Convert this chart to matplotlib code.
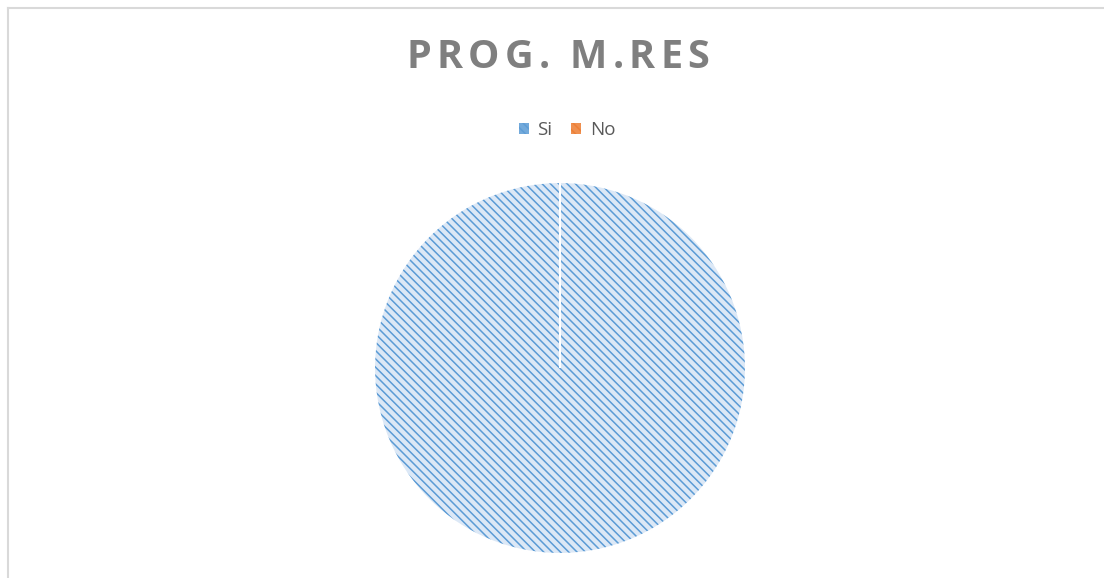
import matplotlib
matplotlib.use("Agg")
import matplotlib.pyplot as plt
from matplotlib.patches import Patch
from matplotlib.lines import Line2D

categories = ["Si", "No"]
values = [100, 0]
colors = ["#5b9bd5", "#ed7d31"]
faces = ["#dce8f6", "#fbdcc9"]
title = "PROG. M.RES"

HATCH = "\\\\\\\\"
plt.rcParams['hatch.linewidth'] = 1.1
W, H = 1104, 578
fig = plt.figure(figsize=(W / 100, H / 100), dpi=100)

# frame
fig.add_artist(Line2D([8 / W, 1.0], [1 - 8 / H, 1 - 8 / H], color="#d9d9d9", lw=1.5, transform=fig.transFigure))
fig.add_artist(Line2D([8 / W, 8 / W], [0, 1 - 8 / H], color="#d9d9d9", lw=1.5, transform=fig.transFigure))

cx, cy, r = 560, 368, 186
ax = fig.add_axes([(cx - r) / W, (H - cy - r) / H, 2 * r / W, 2 * r / H])
wedges, _ = ax.pie(values, startangle=90, counterclock=False, radius=1,
                   wedgeprops=dict(linewidth=0))
for w, c, f in zip(wedges, colors, faces):
    w.set_facecolor(f)
    w.set_edgecolor(c)
    w.set_hatch(HATCH)
    w.set_linewidth(0)
outl, _ = ax.pie(values, startangle=90, counterclock=False, radius=1,
                 wedgeprops=dict(fill=False, edgecolor="white", linewidth=1.5))
ax.set_xlim(-1.0, 1.0)
ax.set_ylim(-1.0, 1.0)
ax.axis("off")

# title with letter spacing
fig.canvas.draw()
renderer = fig.canvas.get_renderer()
fs = 28.5
spacing = 5.2
widths = []
for ch in title:
    t = fig.text(0, 0, ch if ch != " " else "I", fontsize=fs, fontweight="bold", family="Open Sans")
    bb = t.get_window_extent(renderer)
    widths.append(bb.width if ch != " " else bb.width * 0.75)
    t.remove()
total = sum(widths) + spacing * (len(title) - 1)
x = 558 - total / 2
for ch, wd in zip(title, widths):
    fig.text(x / W, 1 - 58 / H, ch, fontsize=fs, fontweight="bold", family="Open Sans",
             color="#7f7f7f", ha="left", va="center")
    x += wd + spacing

handles = [Patch(facecolor=c, edgecolor=c, hatch=HATCH, linewidth=0, alpha=0.85) for c, f in zip(colors, faces)]
fig.legend(handles, categories, loc="center", bbox_to_anchor=(567 / W, 1 - 130 / H), ncol=2,
           frameon=False, handlelength=0.55, handleheight=0.55, handletextpad=0.45,
           columnspacing=1.0, labelcolor="#595959", prop={"family": "Open Sans", "size": 13.5})

fig.savefig("out.png", dpi=100, facecolor="white")
